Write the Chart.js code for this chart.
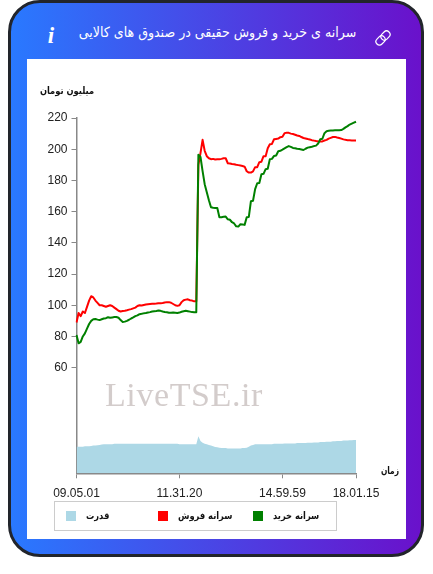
<!DOCTYPE html>
<html lang="fa"><head><meta charset="utf-8">
<script src="https://cdn.jsdelivr.net/npm/chart.js@4"></script>
<style>
html,body{margin:0;padding:0;background:#fff;width:433px;height:574px;overflow:hidden}
#card{position:absolute;left:8px;top:0;width:416px;height:557px;box-sizing:border-box;border:3px solid #22252b;border-radius:32px;background:linear-gradient(90deg,#2979ff,#6a11cb)}
#panel{position:absolute;left:27px;top:59px;width:379px;height:480px;background:#fff}
#cv{position:absolute;left:27px;top:59px}
.t{position:absolute;white-space:nowrap;font-family:"DejaVu Sans",sans-serif}
#title{left:49px;width:337px;top:24px;text-align:center;color:#fff;font-size:14px;direction:rtl;transform:scaleX(.9)}
#info{left:44px;width:14px;text-align:center;top:23px;color:#fff;font:italic bold 23px "Liberation Serif",serif}
#link{position:absolute;left:374px;top:29px}
#yt{left:17px;width:100px;text-align:center;top:85px;font-size:10px;font-weight:bold;color:#111;direction:rtl;transform:scaleX(.83)}
#xt{left:360px;width:60px;text-align:center;top:465px;font-size:10px;font-weight:bold;color:#111;direction:rtl;transform:scaleX(.75)}
#wm{left:105px;top:376px;font:34px "Liberation Serif",serif;color:#d3cccb;letter-spacing:.6px}
#legend{position:absolute;left:54px;top:501px;width:283px;height:30px;box-sizing:border-box;border:1px solid #ccc}
#legend i{position:absolute;top:9px;width:10px;height:10px}
#legend span{position:absolute;top:8px;font:bold 10px "DejaVu Sans",sans-serif;color:#111;direction:rtl;white-space:nowrap;transform:scaleX(.83);transform-origin:0 50%}
</style></head><body>
<div id="card"></div>
<div id="panel"></div>
<div class="t" id="title">سرانه ی خرید و فروش حقیقی در صندوق های کالایی</div>
<div class="t" id="info">i</div>
<svg id="link" width="18" height="18" viewBox="0 0 18 18" fill="none" stroke="#fff" stroke-width="1.2"><g transform="rotate(-45 9 9)"><rect x="0.5" y="5.5" width="10" height="7" rx="3.5"/><rect x="7.5" y="5.5" width="10" height="7" rx="3.5"/></g></svg>
<canvas id="cv" width="379" height="480"></canvas>
<div class="t" id="yt">میلیون تومان</div>
<div class="t" id="xt">زمان</div>
<div class="t" id="wm">LiveTSE.ir</div>
<div id="legend"></div>
<script>
const tickTimes = {0:"09.05.01",49:"11.31.20",98:"14.59.59",133:"18.01.15"};
const yTicks = [60,80,100,120,140,160,180,200,220];
const buy = [81,75.6,76.5,80,82,85,88,90,91,91.2,90.8,90.5,91,91.5,91.7,92.3,92,92.2,92.4,92.5,92,90.5,89.3,89.5,90,90.7,91.5,92.2,93,93.5,94.3,94.5,94.8,95,95.3,95.6,96,96.2,96.3,96.6,96.4,96,95.7,95.5,95.2,95.2,95.4,95.2,95,95.3,95.8,96.2,96.5,96.2,95.9,95.6,95.5,95.5,196.5,195,186,177.6,172.4,167.3,162.8,162.5,162.4,162.3,156.4,156.4,156.7,156.8,155.1,154.8,153.2,152.4,150.6,150.4,151.9,151.8,151.5,156.4,156.6,166.7,167,174.4,178.2,178.4,184,184.2,187.2,187.5,193.6,193.8,195.7,196,198.7,199,199.7,200.5,201.3,202,201.5,200.8,200.6,200.3,200.1,199.8,199.5,200.3,201,201.3,201.6,202,202.3,203.6,206.4,206.7,210.3,211.5,211.8,212,212,212.1,212.2,212.2,212.3,213,214,214.8,215.8,216.4,217,217.6];
const sell = [89,95,93,96,95,99,103,105.8,105,103,101.5,100,100,99.5,99,99.5,100,99.5,98.5,97.5,96.5,96,96.3,96.5,96.8,97.2,97.5,98,98.5,99.5,100,99.8,100.2,100.5,100.7,100.8,100.9,101,101.1,101.3,101.3,101.5,101.8,102,102,101.6,100.8,100,99.6,100,102,103.2,103.6,103.8,103.2,103,102.5,102.5,190,197.5,206,199,195.5,194.2,193.6,193.8,193.4,193.5,193.6,193.8,194.2,194.2,191,190.8,190.5,190.3,190,189.8,189.5,189.2,188.8,185.9,185,185,185.8,188.5,188.5,191.7,192,195.5,195.5,200.6,203.2,203.4,206.4,206.6,206.8,207.7,208,210.3,210.5,210.5,210,209.7,209.3,208.8,208.5,207.8,207.2,206.9,206.5,206.2,205.8,205.5,205.2,205,204.9,205,205.6,206,206.8,207.3,207.8,207.9,207.5,207.2,206.8,206.3,206,205.8,205.7,205.6,205.6,205.6];
const power = [7.5,7.5,7.5,7.5,7.6,7.6,7.6,7.7,7.8,7.8,7.9,8,8.1,8.2,8.2,8.2,8.2,8.2,8.3,8.3,8.3,8.3,8.3,8.3,8.3,8.3,8.3,8.3,8.3,8.3,8.3,8.3,8.3,8.3,8.3,8.3,8.3,8.3,8.3,8.3,8.3,8.3,8.3,8.3,8.3,8.3,8.3,8.3,8.3,8.2,8.2,8.2,8.2,8.2,8.2,8.2,8.2,8.2,10.4,9.1,8.6,8.3,8.2,8,7.8,7.6,7.4,7.3,7.2,7.1,7.1,7.1,7,7,7,7,7,7,7,7.1,7.1,7.2,7.5,7.8,8,8.2,8.2,8.2,8.2,8.2,8.2,8.2,8.2,8.2,8.3,8.3,8.3,8.3,8.3,8.4,8.4,8.4,8.4,8.4,8.4,8.5,8.5,8.5,8.5,8.5,8.6,8.6,8.6,8.7,8.7,8.7,8.8,8.8,8.8,8.9,8.9,8.9,9,9,9.1,9.1,9.1,9.2,9.2,9.2,9.3,9.3,9.4,9.4];
const labels = buy.map((_,i)=>tickTimes[i]||String(i));
const names = {buy:"سرانه خرید",sell:"سرانه فروش",power:"قدرت"};
const chart = new Chart(document.getElementById('cv'),{
 type:'line',
 data:{labels,datasets:[
  {label:names.buy,data:buy,borderColor:'#008000',backgroundColor:'#008000',borderWidth:2,borderJoinStyle:'round',pointRadius:0,tension:0,yAxisID:'y',order:1},
  {label:names.sell,data:sell,borderColor:'#ff0000',backgroundColor:'#ff0000',borderWidth:2,borderJoinStyle:'round',pointRadius:0,tension:0,yAxisID:'y',order:2},
  {label:names.power,data:power,borderColor:'rgba(0,0,0,0)',backgroundColor:'#add8e6',borderWidth:0,pointRadius:0,tension:0,fill:'start',yAxisID:'p',order:3}
 ]},
 options:{responsive:false,animation:false,
  layout:{padding:{left:0,right:50,top:59,bottom:0}},
  plugins:{legend:{display:false},title:{display:false},tooltip:{enabled:false}},
  scales:{
   x:{type:'category',offset:false,
    grid:{display:true,drawOnChartArea:false,drawTicks:true,tickLength:5,color:'#888'},
    border:{color:'#888',width:1.5},
    ticks:{color:'#222',font:{family:'"Liberation Sans",Arial,sans-serif',size:12},padding:8,maxRotation:0,minRotation:0,autoSkip:false,callback(v){return tickTimes[v]||''}},
    afterBuildTicks(s){s.ticks=Object.keys(tickTimes).map(k=>({value:+k}))},
    afterFit(s){s.height=65.7}},
   y:{min:-7.7,max:220,position:'left',
    grid:{display:true,drawOnChartArea:false,drawTicks:true,tickLength:5,color:'#888'},
    border:{color:'#888',width:1.5},
    ticks:{color:'#222',font:{family:'"Liberation Sans",Arial,sans-serif',size:12},padding:4},
    afterBuildTicks(s){s.ticks=yTicks.map(v=>({value:v}))},
    afterFit(s){s.width=49.5}},
   p:{display:false,min:0,max:100}
  }}
});
const lg=document.getElementById('legend');
const slots=[[11,31],[103,123],[198,218]];
[...chart.data.datasets].reverse().forEach((d,i)=>{
 const b=document.createElement('i');b.style.left=slots[i][0]+'px';b.style.background=d.backgroundColor;lg.appendChild(b);
 const s=document.createElement('span');s.style.left=slots[i][1]+'px';s.textContent=d.label;lg.appendChild(s);
});
</script>
</body></html>
